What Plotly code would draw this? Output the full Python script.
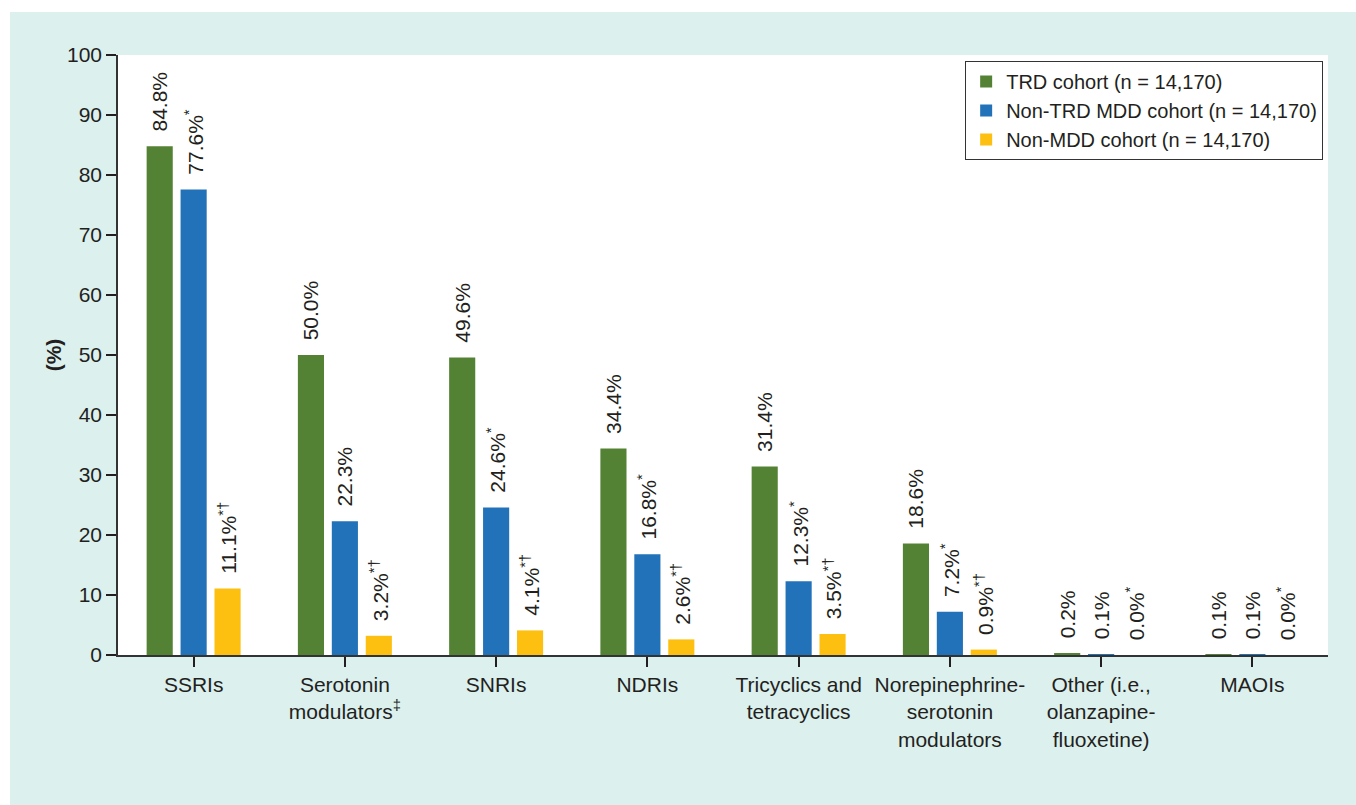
import plotly.graph_objects as go

categories = [
    "SSRIs",
    "Serotonin<br>modulators<sup>‡</sup>",
    "SNRIs",
    "NDRIs",
    "Tricyclics and<br>tetracyclics",
    "Norepinephrine-<br>serotonin<br>modulators",
    "Other (i.e.,<br>olanzapine-<br>fluoxetine)",
    "MAOIs",
]

series_names = [
    "TRD cohort (n = 14,170)",
    "Non-TRD MDD cohort (n = 14,170)",
    "Non-MDD cohort (n = 14,170)",
]

trd_values = [84.8, 50.0, 49.6, 34.4, 31.4, 18.6, 0.2, 0.1]
non_trd_values = [77.6, 22.3, 24.6, 16.8, 12.3, 7.2, 0.1, 0.1]
non_mdd_values = [11.1, 3.2, 4.1, 2.6, 3.5, 0.9, 0.0, 0.0]

trd_labels = ["84.8%", "50.0%", "49.6%", "34.4%", "31.4%", "18.6%", "0.2%", "0.1%"]
non_trd_labels = ["77.6%<sup>*</sup>", "22.3%", "24.6%<sup>*</sup>", "16.8%<sup>*</sup>",
                  "12.3%<sup>*</sup>", "7.2%<sup>*</sup>", "0.1%", "0.1%"]
non_mdd_labels = ["11.1%<sup>*†</sup>", "3.2%<sup>*†</sup>", "4.1%<sup>*†</sup>", "2.6%<sup>*†</sup>",
                  "3.5%<sup>*†</sup>", "0.9%<sup>*†</sup>", "0.0%<sup>*</sup>", "0.0%<sup>*</sup>"]

colors = ["#548235", "#2272b9", "#fdc010"]
TEXT = "#231f20"
FONT = "Liberation Sans, Arial, sans-serif"
PAD = "\u00a0\u00a0"

fig = go.Figure()
for name, vals, labels, color in zip(
    series_names,
    [trd_values, non_trd_values, non_mdd_values],
    [trd_labels, non_trd_labels, non_mdd_labels],
    colors,
):
    fig.add_trace(go.Bar(
        x=categories, y=vals, name=name,
        marker=dict(color=color, line=dict(width=0)),
        text=[PAD + t for t in labels],
        textposition="outside", textangle=-90,
        constraintext="none", cliponaxis=False,
        textfont=dict(size=21, color=TEXT, family=FONT),
    ))

fig.update_layout(
    width=1356, height=805,
    margin=dict(l=118, r=28, t=55, b=150, autoexpand=False),
    paper_bgcolor="#dcf0ee",
    plot_bgcolor="#ffffff",
    font=dict(family=FONT, size=21, color=TEXT),
    barmode="group",
    bargap=0.327,
    bargroupgap=0.23,
    legend=dict(
        x=0.996, y=0.99, xanchor="right", yanchor="top",
        bgcolor="#ffffff", bordercolor="#333333", borderwidth=1,
        font=dict(size=20, color=TEXT, family=FONT),
        itemwidth=30, tracegroupgap=0,
    ),
    xaxis=dict(
        showline=True, linecolor="#333333", linewidth=1.5,
        ticks="outside", ticklen=10, tickwidth=2, tickcolor="#231f20",
        tickfont=dict(size=21, color=TEXT, family=FONT),
        showgrid=False, zeroline=False,
    ),
    yaxis=dict(
        range=[0, 100], dtick=10, tick0=0,
        showline=True, linecolor="#333333", linewidth=1.5,
        ticks="outside", ticklen=10, tickwidth=2, tickcolor="#231f20",
        tickfont=dict(size=21, color=TEXT, family=FONT),
        showgrid=False, zeroline=False,
        title=dict(text="<b>(%)</b>", font=dict(size=21, color=TEXT, family=FONT), standoff=0),
    ),
    shapes=[
        dict(type="rect", xref="paper", yref="paper", xsizemode="pixel", ysizemode="pixel",
             xanchor=0, yanchor=0, x0=-118, x1=-108, y0=-150, y1=655,
             fillcolor="#ffffff", line=dict(width=0), layer="above"),
        dict(type="rect", xref="paper", yref="paper", xsizemode="pixel", ysizemode="pixel",
             xanchor=0, yanchor=1, x0=-118, x1=1300, y0=43, y1=60,
             fillcolor="#ffffff", line=dict(width=0), layer="above"),
    ],
)

fig.write_html("out.html")
